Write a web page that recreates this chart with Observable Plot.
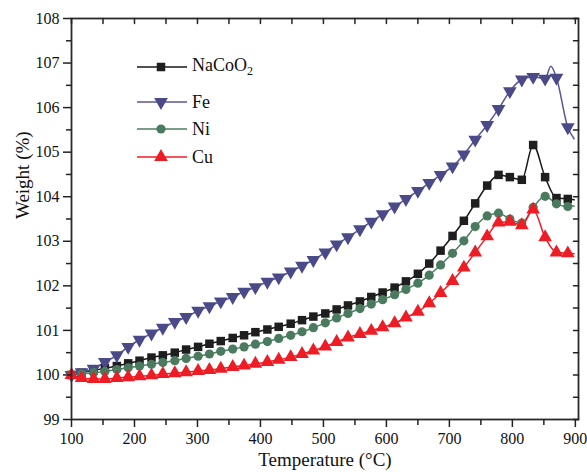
<!DOCTYPE html>
<html><head><meta charset="utf-8">
<script src="https://cdn.jsdelivr.net/npm/d3@7"></script>
<script src="https://cdn.jsdelivr.net/npm/@observablehq/plot@0.6"></script>
<style>
body{margin:0;background:#fff;}
#wrap{position:relative;width:587px;height:472px;overflow:hidden;}
#legend{position:absolute;left:0;top:0;font-family:"Liberation Serif",serif;font-size:18px;color:#111;}
.row{position:absolute;left:136px;height:20px;display:flex;align-items:center;}
.row span{margin-left:4px;white-space:nowrap;}
</style></head><body><div id="wrap"></div>
<script>
// Temperatures (°C) of plotted markers
const temps = [100,116,135,153,172,190,208,227,245,264,282,301,319,337,356,374,392,411,429,448,466,484,503,521,539,558,576,594,613,631,650,668,686,705,723,741,760,778,796,815,833,852,870,888];
// Weight (%) series
const naco = [100.00,100.05,100.10,100.15,100.20,100.26,100.32,100.39,100.44,100.50,100.57,100.63,100.70,100.76,100.83,100.89,100.96,101.02,101.08,101.15,101.23,101.31,101.38,101.47,101.56,101.65,101.75,101.85,101.96,102.10,102.27,102.50,102.79,103.12,103.46,103.85,104.25,104.49,104.44,104.38,105.16,104.44,103.97,103.95];
const fe = [100.00,100.06,100.14,100.29,100.44,100.63,100.79,100.93,101.06,101.19,101.30,101.44,101.54,101.65,101.75,101.87,101.97,102.09,102.19,102.32,102.45,102.58,102.75,102.93,103.09,103.27,103.44,103.61,103.78,103.95,104.13,104.31,104.49,104.68,104.95,105.28,105.61,105.97,106.37,106.63,106.69,106.65,106.67,105.56];
const ni = [100.00,100.02,100.05,100.08,100.12,100.16,100.20,100.24,100.28,100.32,100.37,100.42,100.47,100.53,100.58,100.63,100.69,100.75,100.82,100.89,100.97,101.06,101.17,101.28,101.38,101.49,101.59,101.69,101.80,101.92,102.06,102.24,102.47,102.73,103.01,103.33,103.57,103.63,103.50,103.41,103.76,104.01,103.84,103.78];
const cu = [100.00,99.93,99.91,99.91,99.93,99.95,99.97,99.99,100.02,100.04,100.06,100.09,100.11,100.14,100.18,100.21,100.25,100.29,100.34,100.40,100.47,100.55,100.64,100.74,100.84,100.92,100.99,101.07,101.16,101.29,101.42,101.61,101.84,102.11,102.41,102.75,103.11,103.42,103.44,103.36,103.71,103.09,102.75,102.73];
// extra points on the curves (between / after markers)
const nacoExtraT = [898], nacoExtraW = [103.93];
const feExtraT = [861, 898], feExtraW = [106.93, 105.30];
const niExtraT = [898], niExtraW = [103.79];
const cuExtraT = [898], cuExtraW = [102.72];
// axis ticks
const xMajor = [100,200,300,400,500,600,700,800,900];
const xMinor = [150,250,350,450,550,650,750,850];
const yMajor = [99,100,101,102,103,104,105,106,107,108];
const yMinor = [99.5,100.5,101.5,102.5,103.5,104.5,105.5,106.5,107.5];
const seriesNames = ["NaCoO2","Fe","Ni","Cu"];

const series = [
  {name:"NaCoO2", w:naco, et:nacoExtraT, ew:nacoExtraW, line:"#161616", fill:"#1e1e1e", symbol:"square", r:4.8, rot:0},
  {name:"Fe", w:fe, et:feExtraT, ew:feExtraW, line:"#57559a", fill:"#4b4a88", symbol:"triangle", r:5.1, rot:180},
  {name:"Ni", w:ni, et:niExtraT, ew:niExtraW, line:"#4d7e61", fill:"#4a7b5e", symbol:"circle", r:4.6, rot:0},
  {name:"Cu", w:cu, et:cuExtraT, ew:cuExtraW, line:"#ee1c24", fill:"#ee1c24", symbol:"triangle", r:5.1, rot:0}
];

const tickShape = {draw(context, l){ context.moveTo(0,0); context.lineTo(0,-l); }};

const marks = [];
for (const s of series) {
  const pts = temps.map((t,i)=>({t, w:s.w[i]}));
  const linePts = pts.concat(s.et.map((t,i)=>({t, w:s.ew[i]}))).sort((a,b)=>a.t-b.t);
  marks.push(Plot.line(linePts, {x:"t", y:"w", stroke:s.line, strokeWidth:1.5, curve:"monotone-x"}));
}
for (const s of series) {
  const pts = temps.map((t,i)=>({t, w:s.w[i]}));
  marks.push(Plot.dot(pts, {x:"t", y:"w", symbol:s.symbol, r:s.r, fill:s.fill, stroke:"none", rotate:s.rot}));
}

const chart = Plot.plot({
  width:587, height:472,
  marginLeft:71, marginRight:9, marginTop:18, marginBottom:53,
  style:{fontFamily:"'Liberation Serif', serif", fontSize:"16px", color:"#111", background:"#fff"},
  x:{domain:[100,905]},
  y:{domain:[99,108]},
  marks:[
    ...marks,
    Plot.frame({stroke:"#2a2a2a", strokeWidth:1.8}),
    Plot.axisX({ticks:xMajor, tickSize:8, tickPadding:5, tickFormat:d=>d, stroke:"#222", strokeWidth:1.5, label:null}),
    Plot.axisX({ticks:xMinor, tickSize:6, tickFormat:()=>"", stroke:"#222", strokeWidth:1.5, label:null}),
    Plot.axisY({ticks:yMajor, tickSize:8, tickPadding:4, tickFormat:d=>d, stroke:"#222", strokeWidth:1.5, label:null}),
    Plot.axisY({ticks:yMinor, tickSize:5, tickFormat:()=>"", stroke:"#222", strokeWidth:1.5, label:null}),
    Plot.vector(xMajor.concat(xMinor), {x:d=>d, frameAnchor:"top", length:5, rotate:180, anchor:"start", shape:tickShape, stroke:"#222", strokeWidth:1.5}),
    Plot.vector(yMajor.concat(yMinor), {y:d=>d, frameAnchor:"right", length:5, rotate:-90, anchor:"start", shape:tickShape, stroke:"#222", strokeWidth:1.5}),
    Plot.text(["Temperature (°C)"], {frameAnchor:"bottom", dy:46, fontSize:19, fill:"#111"}),
    Plot.text(["Weight (%)"], {frameAnchor:"left", rotate:-90, dx:-49, fontSize:19, fill:"#111"})
  ]
});
const wrap = document.getElementById("wrap");
wrap.appendChild(chart);

// legend overlay
const legend = document.createElement("div");
legend.id = "legend";
const rowsY = [57, 92, 119, 147];
series.forEach((s, i) => {
  const row = document.createElement("div");
  row.className = "row";
  row.style.top = rowsY[i] + "px";
  const svg = d3.create("svg").attr("width", 52).attr("height", 20);
  svg.append("line").attr("x1",1).attr("x2",51).attr("y1",10).attr("y2",10).attr("stroke", s.line).attr("stroke-width",1.5);
  const sym = {square:d3.symbolSquare, triangle:d3.symbolTriangle, circle:d3.symbolCircle}[s.symbol];
  svg.append("path").attr("d", d3.symbol(sym, s.r*s.r*Math.PI)()).attr("fill", s.fill)
     .attr("transform", `translate(25,10) rotate(${s.rot})`);
  row.appendChild(svg.node());
  const label = document.createElement("span");
  label.innerHTML = s.name === "NaCoO2" ? "NaCoO<sub style=\"font-size:12px;vertical-align:-4px\">2</sub>" : s.name;
  row.appendChild(label);
  legend.appendChild(row);
});
wrap.appendChild(legend);
</script>
</body></html>
